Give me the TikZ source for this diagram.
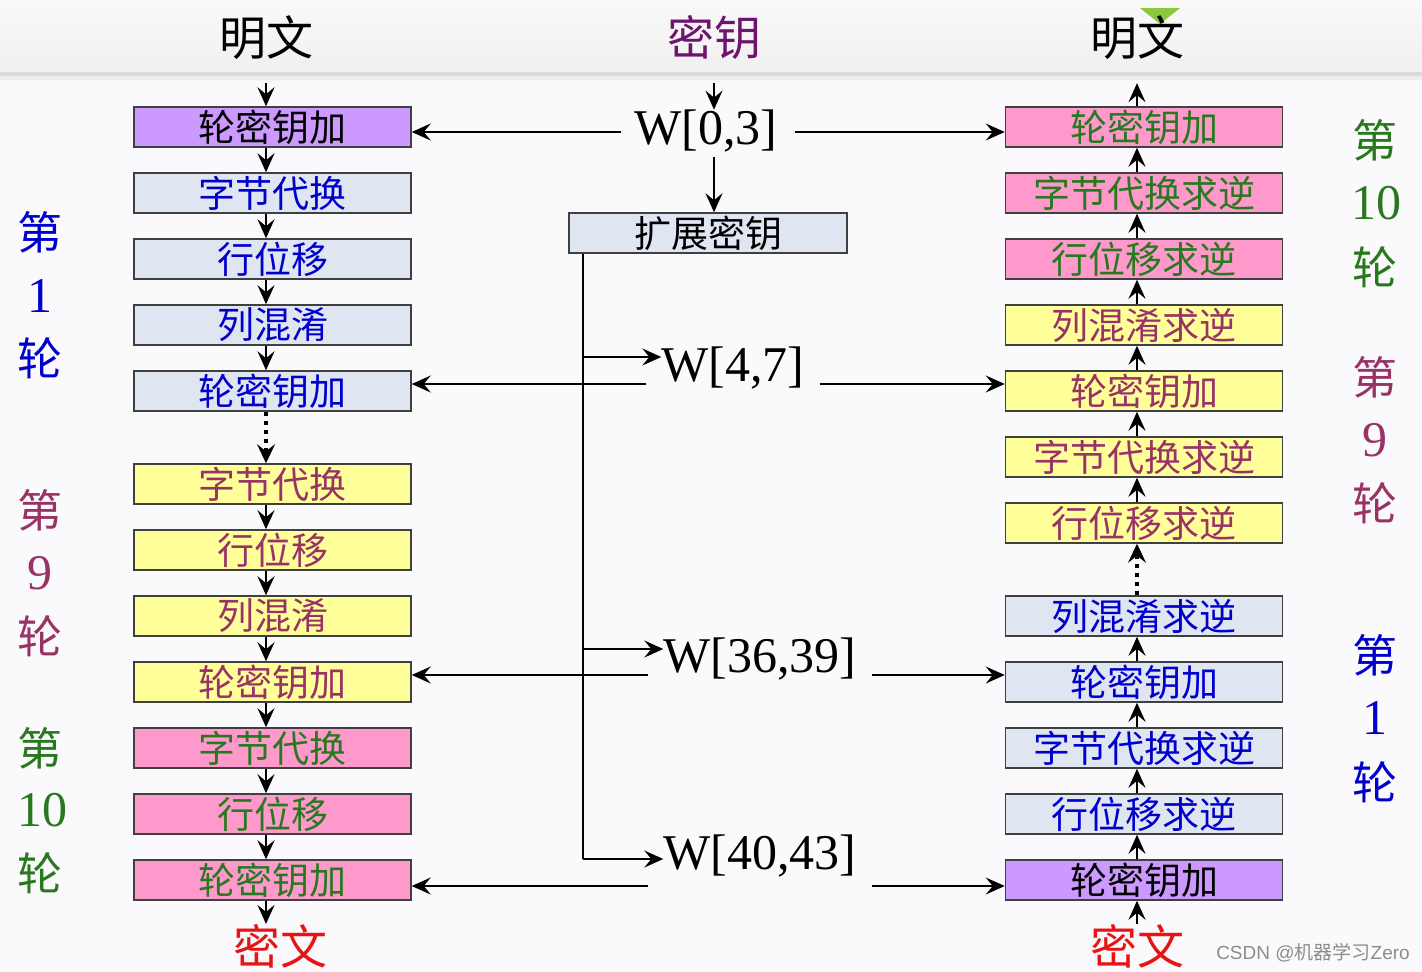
\documentclass[tikz,border=0pt]{standalone}
\usepackage{fontspec}
\setmainfont{Liberation Serif}
\setsansfont{Liberation Sans}
\newfontfamily\cjk{Noto Sans CJK SC}
\usetikzlibrary{arrows.meta}
\definecolor{cpurple}{RGB}{204,153,255}
\definecolor{cpink}{RGB}{255,153,204}
\definecolor{cyellow}{RGB}{255,255,153}
\definecolor{cgray}{RGB}{224,229,242}
\definecolor{tblue}{RGB}{0,0,204}
\definecolor{tred}{RGB}{153,51,102}
\definecolor{tgreen}{RGB}{40,120,30}
\definecolor{keypurple}{RGB}{110,20,110}
\definecolor{ctred}{RGB}{232,20,20}
\definecolor{bgc}{RGB}{250,250,252}
\definecolor{leaf}{RGB}{140,200,60}
\begin{document}
\begin{tikzpicture}[x=1pt,y=-1pt,
  stage/.style={draw=black!75, line width=1.5pt, minimum width=277pt, minimum height=40pt, inner sep=0pt, font=\cjk\fontsize{37}{38}\selectfont},
  arr/.style={line width=1.8pt, -{Stealth[length=19pt,width=17pt,inset=7pt]}},
  keyline/.style={line width=1.4pt, -{Stealth[length=19pt,width=17pt,inset=7pt]}},
  dotarr/.style={line width=4pt, dash pattern=on 4pt off 5pt, -{Stealth[length=19pt,width=18pt,inset=7pt,line width=1pt]}},
  wlab/.style={inner sep=0pt, font=\fontsize{50}{50}\selectfont},
  title/.style={inner sep=0pt, font=\cjk\fontsize{47}{48}\selectfont},
  sidec/.style={inner sep=0pt, font=\cjk\fontsize{45}{46}\selectfont},
  sided/.style={inner sep=0pt, font=\fontsize{50}{50}\selectfont},
]
\useasboundingbox (0,0) rectangle (1422,972);
% background
\fill[bgc] (0,0) rectangle (1422,972);
\fill[black!7, rounded corners=38pt] (-40,-40) rectangle (1470,80);
\fill[black!14, rounded corners=38pt] (-40,-40) rectangle (1470,76);
\shade[top color=white, bottom color=black!6, rounded corners=36pt] (-40,-40) rectangle (1470,72);
\fill[leaf] (1140,8) -- (1180,8) -- (1160,24) -- cycle;

% column reference coordinates
\coordinate (lx) at (266,0);
\coordinate (rx) at (1137,0);
\coordinate (kx) at (714,0);
\coordinate (vx) at (583,0);

% titles
\node[title] (tL) at (266,38) {明文};
\node[title, text=keypurple] (tK) at (714,38) {密钥};
\node[title] (tR) at (1137,38) {明文};
\node[title, text=ctred] (cL) at (280,946) {密文};
\node[title, text=ctred] (cR) at (1137,946) {密文};

% left column
\node[stage, fill=cpurple] (L1) at (272.5,127) {轮密钥加};
\node[stage, fill=cgray, text=tblue] (L2) at (272.5,193) {字节代换};
\node[stage, fill=cgray, text=tblue] (L3) at (272.5,259) {行位移};
\node[stage, fill=cgray, text=tblue] (L4) at (272.5,325) {列混淆};
\node[stage, fill=cgray, text=tblue] (L5) at (272.5,391) {轮密钥加};
\node[stage, fill=cyellow, text=tred] (L6) at (272.5,484) {字节代换};
\node[stage, fill=cyellow, text=tred] (L7) at (272.5,550) {行位移};
\node[stage, fill=cyellow, text=tred] (L8) at (272.5,616) {列混淆};
\node[stage, fill=cyellow, text=tred] (L9) at (272.5,682) {轮密钥加};
\node[stage, fill=cpink, text=tgreen] (L10) at (272.5,748) {字节代换};
\node[stage, fill=cpink, text=tgreen] (L11) at (272.5,814) {行位移};
\node[stage, fill=cpink, text=tgreen] (L12) at (272.5,880) {轮密钥加};

% right column
\node[stage, fill=cpink, text=tgreen] (R1) at (1144,127) {轮密钥加};
\node[stage, fill=cpink, text=tgreen] (R2) at (1144,193) {字节代换求逆};
\node[stage, fill=cpink, text=tgreen] (R3) at (1144,259) {行位移求逆};
\node[stage, fill=cyellow, text=tred] (R4) at (1144,325) {列混淆求逆};
\node[stage, fill=cyellow, text=tred] (R5) at (1144,391) {轮密钥加};
\node[stage, fill=cyellow, text=tred] (R6) at (1144,457) {字节代换求逆};
\node[stage, fill=cyellow, text=tred] (R7) at (1144,523) {行位移求逆};
\node[stage, fill=cgray, text=tblue] (R8) at (1144,616) {列混淆求逆};
\node[stage, fill=cgray, text=tblue] (R9) at (1144,682) {轮密钥加};
\node[stage, fill=cgray, text=tblue] (R10) at (1144,748) {字节代换求逆};
\node[stage, fill=cgray, text=tblue] (R11) at (1144,814) {行位移求逆};
\node[stage, fill=cpurple] (R12) at (1144,880) {轮密钥加};

% key column
\node[wlab] (W0) at (706,131) {W[0,3]};
\node[stage, fill=cgray, minimum width=278pt] (EK) at (708,233) {扩展密钥};
\node[wlab] (W4) at (733,368) {W[4,7]};
\node[wlab] (W36) at (760,659) {W[36,39]};
\node[wlab] (W40) at (760,856) {W[40,43]};

% side labels
\foreach \t/\y/\c in {第/232/tblue, 轮/358/tblue, 第/510/tred, 轮/636/tred, 第/748/tgreen, 轮/873/tgreen}
  \node[sidec, text=\c] at (40,\y) {\t};
\node[sided, text=tblue] at (40,296) {1};
\node[sided, text=tred] at (40,573) {9};
\node[sided, text=tgreen] at (42,810) {10};
\foreach \t/\y/\c in {第/140/tgreen, 轮/267/tgreen, 第/377/tred, 轮/503/tred, 第/655/tblue, 轮/782/tblue}
  \node[sidec, text=\c] at (1375,\y) {\t};
\node[sided, text=tgreen] at (1376,203) {10};
\node[sided, text=tred] at (1375,440) {9};
\node[sided, text=tblue] at (1375,718) {1};

% watermark
\node[inner sep=0pt, text=black!45, font=\sffamily\fontsize{19}{20}\selectfont] (wm) at (1313,953) {CSDN @{\cjk 机器学习}Zero};

% left column arrows
\draw[arr, shorten <=23pt] (tL.south -| lx) -- (L1.north -| lx);
\foreach \a/\b in {L1/L2, L2/L3, L3/L4, L4/L5, L6/L7, L7/L8, L8/L9, L9/L10, L10/L11, L11/L12}
  \draw[arr] (\a.south -| lx) -- (\b.north -| lx);
\draw[dotarr] (L5.south -| lx) -- (L6.north -| lx);
\draw[arr] (L12.south -| lx) -- (cL.north -| lx);

% right column arrows
\draw[arr, shorten >=23pt] (R1.north -| rx) -- (tR.south -| rx);
\foreach \a/\b in {R2/R1, R3/R2, R4/R3, R5/R4, R6/R5, R7/R6, R9/R8, R10/R9, R11/R10, R12/R11}
  \draw[arr] (\a.north -| rx) -- (\b.south -| rx);
\draw[dotarr] (R8.north -| rx) -- (R7.south -| rx);
\draw[arr] (cR.north -| rx) -- (R12.south -| rx);

% key arrows
\draw[arr, shorten <=23pt] (tK.south -| kx) -- (W0.north -| kx);
\draw[arr, shorten <=5pt] (W0.south -| kx) -- (EK.north -| kx);
\coordinate (b4) at (583,357);
\coordinate (b36) at (583,649);
\coordinate (b40) at (583,859);
\draw[line width=1.4pt] (EK.south -| vx) -- (b40);
\draw[keyline] (b4) -- (b4 -| W4.west);
\draw[keyline] (b36) -- (b36 -| W36.west);
\draw[keyline] (b40) -- (b40 -| W40.west);

\coordinate (y0) at (0,132);
\coordinate (y4) at (0,384);
\coordinate (y36) at (0,675);
\coordinate (y40) at (0,886);
\draw[keyline, shorten <=13pt] (W0.west |- y0) -- (L1.east |- y0);
\draw[keyline, shorten <=17pt] (W0.east |- y0) -- (R1.west |- y0);
\draw[keyline, shorten <=15pt] (W4.west |- y4) -- (L5.east |- y4);
\draw[keyline, shorten <=15pt] (W4.east |- y4) -- (R5.west |- y4);
\draw[keyline, shorten <=15pt] (W36.west |- y36) -- (L9.east |- y36);
\draw[keyline, shorten <=15pt] (W36.east |- y36) -- (R9.west |- y36);
\draw[keyline, shorten <=15pt] (W40.west |- y40) -- (L12.east |- y40);
\draw[keyline, shorten <=15pt] (W40.east |- y40) -- (R12.west |- y40);
\end{tikzpicture}
\end{document}
